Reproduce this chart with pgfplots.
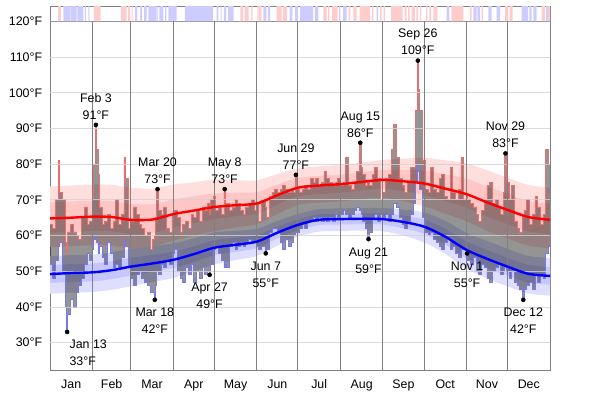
\documentclass[border=0pt]{standalone}
\usepackage{fontspec}
\setmainfont{Liberation Sans}
\usepackage{pgfplots}
\usepackage{pgfplotstable}
\pgfplotsset{compat=1.18}
\usepgfplotslibrary{fillbetween}

\definecolor{pinkA}{RGB}{255,222,222}
\definecolor{pinkB}{RGB}{255,198,198}
\definecolor{blueA}{RGB}{222,222,255}
\definecolor{blueB}{RGB}{198,198,255}
\definecolor{stripP}{RGB}{255,204,204}
\definecolor{stripB}{RGB}{204,204,255}
\definecolor{gridH}{RGB}{210,210,210}
\definecolor{gridV}{RGB}{128,128,128}
\definecolor{hiOut}{RGB}{235,110,110}
\definecolor{loOut}{RGB}{120,120,235}

\newcommand{\lab}{\fontsize{9.3}{12.75}\selectfont}

% daily high / low (step values, each row holds until the next day listed)
\pgfplotstableread{
d hi lo
0 63 52
2 62 48
4 70 53
6 81 57
7 72 58
9 70 50
11 58 40
12 55 33
13 61 38
15 63 42
17 61 40
19 60 44
21 59 46
23 65 48
25 68 52
27 63 55
29 64 53
31 70 56
32 80 59
33 91 60
34 84 58
35 77 55
36 68 57
38 63 54
40 64 52
42 66 58
44 62 55
46 64 51
48 70 52
50 63 51
52 66 54
54 82 59
55 76 57
57 62 51
59 64 48
61 68 46
63 66 49
65 63 50
67 62 48
69 60 47
71 61 46
73 56 44
75 59 44
76 60 42
77 65 46
78 73 50
79 67 49
81 66 52
83 68 51
85 62 53
87 61 52
89 66 55
91 67 56
93 65 50
95 61 48
97 63 47
99 64 51
101 62 49
103 66 52
105 65 47
107 67 50
109 64 48
111 68 51
113 67 49
115 69 50
116 66 49
117 70 52
119 71 56
121 67 57
123 68 55
125 66 53
127 73 51
128 69 52
129 69 51
131 67 57
133 68 58
135 70 56
137 69 57
139 67 58
141 66 57
143 68 58
145 69 59
147 70 58
149 67 58
151 69 57
152 64 56
154 70 57
156 70 57
157 68 55
158 65 56
160 71 61
162 72 62
164 73 62
166 72 61
168 73 58
170 74 56
172 73 59
174 72 57
176 73 58
178 72 60
179 77 61
180 73 61
182 72 62
184 73 63
186 74 62
188 73 64
190 76 64
192 75 65
194 76 64
196 74 65
198 75 64
200 78 65
202 76 64
204 75 65
206 74 64
208 75 66
210 76 65
212 74 66
214 75 67
216 82 66
218 74 65
220 73 66
222 75 67
224 78 68
226 86 67
227 79 66
228 77 64
230 74 62
232 75 59
233 74 61
235 77 65
237 79 66
239 76 64
241 70 66
243 72 65
245 76 66
247 77 64
249 84 66
251 91 69
253 82 68
255 76 65
257 74 63
259 72 62
261 75 64
263 79 66
265 79 69
267 95 75
268 109 80
269 101 78
270 95 73
272 81 65
274 73 61
276 72 60
278 79 61
280 73 59
282 72 58
284 76 57
286 77 56
288 71 58
290 70 59
292 79 56
294 72 57
296 70 55
298 73 54
300 82 56
302 70 56
304 71 55
305 70 53
307 69 52
309 68 54
311 66 50
313 64 49
315 67 52
317 70 51
319 74 48
321 75 47
323 69 50
325 70 51
327 68 52
329 66 49
331 72 50
332 83 51
333 75 50
335 70 48
337 74 50
339 64 47
341 62 46
343 61 45
345 65 42
346 67 45
348 70 46
350 63 47
352 66 45
354 71 49
356 68 47
358 63 49
360 66 48
362 84 55
364 80 57
365 80 57
}\daily

% average high / low with 10-25-75-90 percentile bands
\pgfplotstableread{
d h90 h75 mh h25 h10 l90 l75 ml l25 l10
0 73.8 69.3 64.8 60.8 56.8 54.2 51.7 49.2 46.7 43.7
15 74.0 69.5 65.0 61.0 57.0 54.5 52.0 49.5 47.0 44.0
31 74.3 69.8 65.3 61.3 57.3 54.7 52.2 49.7 47.2 44.2
45 74.2 69.7 65.2 61.2 57.2 55.3 52.8 50.3 47.8 44.8
59 73.4 68.9 64.4 60.4 56.4 56.3 53.8 51.3 48.8 45.8
75 73.1 68.8 64.5 60.7 56.9 57.0 54.6 52.2 49.8 47.0
90 74.3 70.1 66.0 62.3 58.6 57.8 55.5 53.2 50.9 48.1
105 74.9 71.0 67.0 63.5 60.0 59.2 57.0 54.8 52.6 50.0
120 75.7 71.8 68.0 64.6 61.2 60.9 58.7 56.6 54.5 51.9
135 75.5 72.0 68.5 65.4 62.3 61.3 59.4 57.4 55.4 53.1
151 75.5 72.2 69.0 66.1 63.2 61.9 60.1 58.3 56.5 54.3
166 77.2 74.3 71.3 68.7 66.0 64.1 62.5 60.8 59.2 57.2
181 78.8 76.1 73.4 71.0 68.6 66.0 64.5 63.0 61.5 59.7
196 79.4 76.7 74.0 71.6 69.2 67.4 65.9 64.4 62.9 61.1
212 79.8 77.1 74.4 72.0 69.6 67.6 66.1 64.6 63.1 61.3
227 80.4 77.7 75.0 72.6 70.2 67.7 66.2 64.7 63.2 61.4
243 81.2 78.4 75.6 73.1 70.6 67.7 66.2 64.6 63.1 61.2
258 81.5 78.4 75.2 72.4 69.6 67.3 65.6 63.8 62.0 60.0
273 81.8 78.2 74.6 71.4 68.2 66.5 64.5 62.5 60.5 58.1
288 81.1 77.2 73.2 69.7 66.2 64.2 62.0 59.8 57.6 55.0
304 80.2 75.9 71.6 67.8 64.0 60.8 58.4 56.0 53.6 50.8
319 78.3 73.8 69.3 65.3 61.3 58.5 56.0 53.5 51.0 48.0
334 76.2 71.7 67.2 63.2 59.2 56.3 53.8 51.3 48.8 45.8
349 74.2 69.7 65.2 61.2 57.2 54.3 51.8 49.3 46.8 43.8
365 73.4 68.9 64.4 60.4 56.4 53.7 51.2 48.7 46.2 43.2
}\bands

\begin{document}
\begin{tikzpicture}
\path (0,0) rectangle (450pt,295.5pt);

% ---- warm / cold day strip ----
\begin{axis}[
  at={(37.5pt,279.5pt)}, anchor=south west,
  scale only axis, width=375pt, height=11.5pt,
  xmin=0, xmax=365, ymin=0, ymax=1,
  axis line style={gridV}, ticks=none,
]
\addplot[fill=stripP, draw=none, const plot] coordinates {
(0,0)(6,1)(8,0)(32,1)(37,0)(52,1)(56,0)(57,1)(58.4,0)(59.6,1)(60.3,0)
(139,1)(141,0)(142,1)(145,0)(147,1)(148,0)(151.3,1)(152.3,0)(152.6,1)(154.5,0)
(165.5,1)(169,0)(170,1)(173,0)(199.5,1)(202,0)(203,1)(204,0)(206,1)(210,0)
(218,1)(219,0)(221.4,1)(223.8,0)(226,1)(233.6,0)(235,1)(236,0)(241,1)(242,0)
(243.5,1)(244.5,0)(249,1)(257.5,0)(259,1)(260.3,0)(261.5,1)(262.5,0)(264,1)(266.4,0)
(267.5,1)(268.5,0)(270,1)(271,0)(274.5,1)(275.5,0)(277,1)(278,0)(279.8,1)(282.7,0)
(293,1)(301.7,0)(306.6,1)(307.8,0)(315,1)(316,0)(332,1)(334.5,0)(335.5,1)(337.8,0)
(358.9,1)(361.3,0)(363.7,1)(365,1)} \closedcycle;
\addplot[fill=stripB, draw=none, const plot] coordinates {
(0,0)(9.7,1)(14.6,0)(15,1)(19.5,0)(20,1)(24.3,0)(25.5,1)(26.2,0)(28,1)(28.7,0)
(62,1)(63.7,0)(65.7,1)(67,0)(68.6,1)(70.6,0)(71.8,1)(77.9,0)(78.3,1)(79,0)
(79.8,1)(82.7,0)(84,1)(85,0)(86.4,1)(92.5,0)(98.5,1)(119,0)(121.7,1)(122.9,0)
(124.5,1)(125.2,0)(127,1)(128.5,0)(130,1)(134,0)(155.7,1)(158,0)(159,1)(160.6,0)
(175,1)(177,0)(179,1)(181,0)(182.5,1)(192,0)(193.4,1)(196,0)(211,1)(212,0)
(214,1)(216.5,0)(238.4,1)(239.6,0)(289.5,1)(291.5,0)(309,1)(311.4,0)(312,1)(314,0)
(320,1)(322.4,0)(326,1)(328.5,0)(344.3,1)(349,0)(350,1)(351.5,0)(352.8,1)(355.2,0)
(362,1)(363.7,0)(365,0)} \closedcycle;
\end{axis}

% ---- main chart ----
\begin{axis}[
  at={(37.5pt,17.5pt)}, anchor=south west,
  scale only axis, width=375pt, height=262pt,
  xmin=0, xmax=365, ymin=22.16, ymax=120,
  axis line style={gridV},
  major tick length=0pt,
  xtick={15.5,45,74.5,105,135.5,166,196.5,227.5,258,288.5,319,349.5},
  xticklabels={Jan,Feb,Mar,Apr,May,Jun,Jul,Aug,Sep,Oct,Nov,Dec},
  ytick={30,40,50,60,70,80,90,100,110,120},
  yticklabels={30°F,40°F,50°F,60°F,70°F,80°F,90°F,100°F,110°F,120°F},
  tick label style={font=\fontsize{9.3}{11}\selectfont, black},
  xticklabel style={text height=6.7pt, text depth=0pt, yshift=-3pt},
  yticklabel style={xshift=-2.4pt},
  clip mode=individual,
]
% percentile bands
\addplot[name path=h90, draw=none, smooth] table[x=d,y=h90]{\bands};
\addplot[name path=h75, draw=none, smooth] table[x=d,y=h75]{\bands};
\addplot[name path=h25, draw=none, smooth] table[x=d,y=h25]{\bands};
\addplot[name path=h10, draw=none, smooth] table[x=d,y=h10]{\bands};
\addplot[name path=l90, draw=none, smooth] table[x=d,y=l90]{\bands};
\addplot[name path=l75, draw=none, smooth] table[x=d,y=l75]{\bands};
\addplot[name path=l25, draw=none, smooth] table[x=d,y=l25]{\bands};
\addplot[name path=l10, draw=none, smooth] table[x=d,y=l10]{\bands};
\addplot[pinkA] fill between[of=h90 and h10];
\addplot[pinkB] fill between[of=h75 and h25];
\addplot[blueA] fill between[of=l90 and l10];
\addplot[blueB] fill between[of=l75 and l25];

% daily range
\addplot[name path=hi, draw=none, const plot] table[x=d,y=hi]{\daily};
\addplot[name path=lo, draw=none, const plot] table[x=d,y=lo]{\daily};
\addplot[black, opacity=0.42] fill between[of=hi and lo];
\addplot[hiOut, line width=0.6pt, const plot] table[x=d,y=hi]{\daily};
\addplot[loOut, line width=0.6pt, const plot] table[x=d,y=lo]{\daily};

% grid
\pgfplotsinvokeforeach{30,40,50,60,70,80,90,100,110}{
  \addplot[gridH, line width=0.6pt, opacity=0.8] coordinates {(0,#1)(365,#1)};
}
\pgfplotsinvokeforeach{31,59,90,120,151,181,212,243,273,304,334}{
  \addplot[gridV, line width=0.7pt] coordinates {(#1,22.16)(#1,120)};
}

% averages
\addplot[red, line width=1.8pt, smooth] table[x=d,y=mh]{\bands};
\addplot[blue, line width=1.8pt, smooth] table[x=d,y=ml]{\bands};

% marked extremes
\addplot[only marks, mark=*, mark size=1.5pt, black] coordinates {
(12.5,33)(33.5,91)(76.5,42)(78.5,73)(116.5,49)(127.5,73)(157.5,55)(179.5,77)
(226.5,86)(232.5,59)(268.5,109)(304.5,55)(332.5,83)(345.5,42)};

\node[anchor=south, align=center, inner sep=0pt, font=\lab, yshift=4pt] at (axis cs:33.5,91) {Feb 3\\91°F};
\node[anchor=south, align=center, inner sep=0pt, font=\lab, yshift=4pt] at (axis cs:78.5,73) {Mar 20\\73°F};
\node[anchor=south, align=center, inner sep=0pt, font=\lab, yshift=4pt] at (axis cs:127.5,73) {May 8\\73°F};
\node[anchor=south, align=center, inner sep=0pt, font=\lab, yshift=4pt] at (axis cs:179.5,77) {Jun 29\\77°F};
\node[anchor=south, align=center, inner sep=0pt, font=\lab, yshift=4pt] at (axis cs:226.5,86) {Aug 15\\86°F};
\node[anchor=south, align=center, inner sep=0pt, font=\lab, yshift=4pt] at (axis cs:268.5,109) {Sep 26\\109°F};
\node[anchor=south, align=center, inner sep=0pt, font=\lab, yshift=4pt] at (axis cs:332.5,83) {Nov 29\\83°F};

\node[anchor=north west, align=left, inner sep=0pt, font=\lab, yshift=-6pt] at (axis cs:14.1,33) {Jan 13\\33°F};
\node[anchor=north, align=center, inner sep=0pt, font=\lab, yshift=-6pt] at (axis cs:76.5,42) {Mar 18\\42°F};
\node[anchor=north, align=center, inner sep=0pt, font=\lab, yshift=-6pt] at (axis cs:116.5,49) {Apr 27\\49°F};
\node[anchor=north, align=center, inner sep=0pt, font=\lab, yshift=-6pt] at (axis cs:157.5,55) {Jun 7\\55°F};
\node[anchor=north, align=center, inner sep=0pt, font=\lab, yshift=-6pt] at (axis cs:232.5,59) {Aug 21\\59°F};
\node[anchor=north, align=center, inner sep=0pt, font=\lab, yshift=-6pt] at (axis cs:304.5,55) {Nov 1\\55°F};
\node[anchor=north, align=center, inner sep=0pt, font=\lab, yshift=-6pt] at (axis cs:345.5,42) {Dec 12\\42°F};
\end{axis}
\end{tikzpicture}
\end{document}
